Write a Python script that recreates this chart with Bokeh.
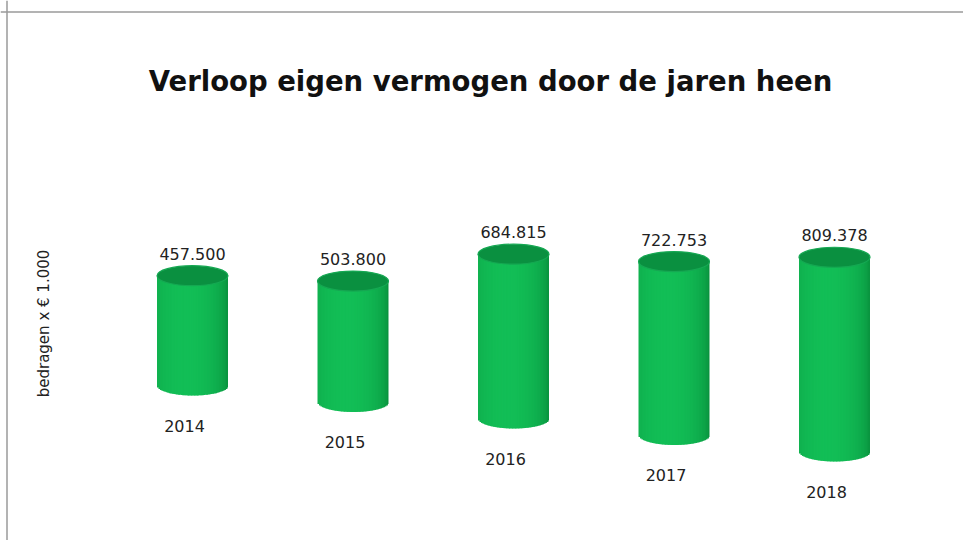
import math
from bokeh.plotting import figure
from bokeh.models import Span, ColumnDataSource
from bokeh.core.properties import value
from bokeh.embed import file_html
from bokeh.resources import INLINE

# ---- data ----
years = ["2014", "2015", "2016", "2017", "2018"]
equity = [457500, 503800, 684815, 722753, 809378]          # x € 1.000
value_labels = ["457.500", "503.800", "684.815", "722.753", "809.378"]
title_text = "Verloop eigen vermogen door de jaren heen"
axis_label = "bedragen x € 1.000"

# ---- layout / scale constants ----
W, H = 963, 540
PX_X = 160.5        # pixels per category step
PX_Y = 0.00024      # pixels per unit of value
x0_px = 192.0       # px of first cylinder centre
base0_px = 385.0    # px of first cylinder base
skew_px = 16.5      # perspective drop of the base per category

x_start = -x0_px / PX_X
x_end = x_start + W / PX_X
y_end = base0_px / PX_Y
y_start = y_end - H / PX_Y


def dx(px):
    return px / PX_X


def dy(px):
    return px / PX_Y


def fx(px):
    return x_start + px / PX_X


def fy(px):
    return y_end - px / PX_Y


p = figure(width=W, height=H, x_range=(x_start, x_end), y_range=(y_start, y_end),
           output_backend="svg", toolbar_location=None, min_border=0,
           x_axis_location=None, y_axis_location=None)
p.grid.visible = False
p.outline_line_color = None
p.background_fill_color = "white"
p.border_fill_color = "white"

# frame lines (top and left)
p.add_layout(Span(location=fy(11.5), dimension="width", line_color="#9a9a9a", line_width=1.5))
p.add_layout(Span(location=fx(6.5), dimension="height", line_color="#9a9a9a", line_width=1.5))

cw = dx(71)   # cylinder width (data units)
eh = dy(20)   # ellipse height (data units)

n = len(years)
xs = list(range(n))
bases = [-dy(skew_px) * i for i in range(n)]
tops = [bases[i] + equity[i] for i in range(n)]

dark = (8, 138, 58)
light = (18, 190, 86)
c = -0.2


def shade(u):
    t = 1 - ((u - c) / (1 + abs(c))) ** 2
    t = max(0.0, t) ** 0.5
    r = [int(round(dark[k] + (light[k] - dark[k]) * t)) for k in range(3)]
    return "#%02x%02x%02x" % tuple(r)


N = 48
L, R, B, T, C = [], [], [], [], []
for i in range(n):
    for k in range(N):
        u0 = -1 + 2 * k / N
        u1 = -1 + 2 * (k + 1) / N
        um = (u0 + u1) / 2
        u1x = min(1.0, u1 + 1.2 / N)   # small overlap hides seams
        L.append(xs[i] + u0 * cw / 2)
        R.append(xs[i] + u1x * cw / 2)
        B.append(bases[i] - (eh / 2) * math.sqrt(max(0.0, 1 - um * um)))
        T.append(tops[i])
        C.append(shade(um))

strips = ColumnDataSource(dict(left=L, right=R, bottom=B, top=T, color=C))
p.quad(left="left", right="right", bottom="bottom", top="top", source=strips,
       fill_color="color", line_color=None)

# top caps
p.ellipse(x=xs, y=tops, width=cw, height=eh, fill_color="#0a9040",
          line_color="#15a852", line_width=1.2)

# value labels
p.text(x=xs, y=[t + eh / 2 + dy(12) for t in tops], text=value_labels,
       text_font=value("DejaVu Sans"), text_font_size="16px", text_color="#222222",
       text_align="center", text_baseline="middle")

# year labels
p.text(x=[x - dx(8) for x in xs], y=[b - dy(40) for b in bases], text=years,
       text_font=value("DejaVu Sans"), text_font_size="16px", text_color="#222222",
       text_align="center", text_baseline="middle")

# title
p.text(x=[fx(490)], y=[fy(80)], text=[title_text],
       text_font=value("DejaVu Sans"), text_font_style="bold", text_font_size="27.5px",
       text_color="#111111", text_align="center", text_baseline="middle")

# axis label
p.text(x=[fx(43)], y=[fy(323)], text=[axis_label], angle=math.pi / 2,
       text_font=value("DejaVu Sans"), text_font_size="15px", text_color="#222222",
       text_align="center", text_baseline="middle")

open("out.html", "w").write(file_html(p, INLINE))
